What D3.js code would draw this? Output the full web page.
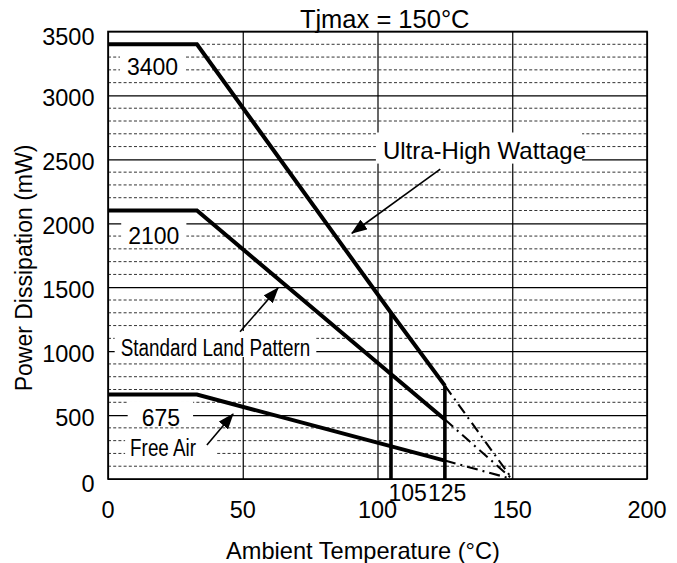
<!DOCTYPE html>
<html>
<head>
<meta charset="utf-8">
<script src="https://cdn.jsdelivr.net/npm/d3@7"></script>
<style>
  body { margin: 0; background: #fff; }
  svg text { font-family: "Liberation Sans", Arial, Helvetica, sans-serif; fill: #000; }
</style>
</head>
<body>
<svg id="chart" width="677" height="563"></svg>
<script>
// values
const xTicks = [0, 50, 100, 150, 200]
const yTicks = [0, 500, 1000, 1500, 2000, 2500, 3000, 3500]

const ultraTemp = [0, 33, 105, 125]
const ultraPower = [3400, 3400, 1300, 730]
const landTemp = [0, 33, 125]
const landPower = [2100, 2100, 465]
const airTemp = [0, 33, 125]
const airPower = [660, 660, 144]
const tjMax = 150
const cutoffTemps = [105, 125]

const svg = d3.select('#chart')
const x = d3.scaleLinear().domain([0, 200]).range([108, 647])
const y = d3.scaleLinear().domain([0, 3500]).range([479, 31.5])
const plotL = x(0), plotR = x(200), plotT = y(3500), plotB = y(0)

// minor dashed grid (every 100 mW)
let minor = y.ticks(35).filter(v => v % 500 !== 0)
svg.append('g')
  .selectAll('line')
  .data(minor)
  .join('line')
    .attr('x1', plotL).attr('x2', plotR)
    .attr('y1', d => y(d)).attr('y2', d => y(d))
    .attr('stroke', '#333')
    .attr('stroke-width', 1)
    .attr('stroke-dasharray', '3,2.2')

// major grid via axes
let gx = d3.axisBottom(x).tickValues(xTicks).tickSize(-(plotB - plotT)).tickFormat('')
svg.append('g').attr('transform', `translate(0,${plotB})`).call(gx)
  .call(g => g.select('.domain').remove())
  .selectAll('line').attr('stroke', '#000').attr('stroke-width', 1.2)

let gy = d3.axisLeft(y).tickValues(yTicks).tickSize(-(plotR - plotL)).tickFormat('')
svg.append('g').attr('transform', `translate(${plotL},0)`).call(gy)
  .call(g => g.select('.domain').remove())
  .selectAll('line').attr('stroke', '#000').attr('stroke-width', 1.2)

svg.append('rect')
  .attr('x', plotL).attr('y', plotT)
  .attr('width', plotR - plotL).attr('height', plotB - plotT)
  .attr('fill', 'none').attr('stroke', '#000').attr('stroke-width', 1.6)

// tick labels
svg.append('g')
  .selectAll('text')
  .data(yTicks)
  .join('text')
    .attr('x', plotL - 13.5)
    .attr('y', d => y(d) + (d === 0 || d === 3500 ? 5 : 2.5))
    .attr('dy', '0.35em')
    .attr('text-anchor', 'end')
    .attr('font-size', 23.5)
    .text(d => d)

svg.append('g')
  .selectAll('text')
  .data(xTicks)
  .join('text')
    .attr('x', d => x(d))
    .attr('y', 518)
    .attr('text-anchor', 'middle')
    .attr('font-size', 23.5)
    .text(d => d)

svg.append('text').attr('x', x(105) - 2.5).attr('y', 501)
  .attr('font-size', 23).text('105')
svg.append('text').attr('x', x(125) - 17).attr('y', 501)
  .attr('font-size', 23).text('125')

// axis titles
svg.append('text')
  .attr('x', 363).attr('y', 559)
  .attr('text-anchor', 'middle')
  .attr('font-size', 23.6)
  .text('Ambient Temperature (°C)')

svg.append('text')
  .attr('transform', 'translate(32,268) rotate(-90)')
  .attr('text-anchor', 'middle')
  .attr('font-size', 23)
  .text('Power Dissipation (mW)')

svg.append('text')
  .attr('x', x(71.2)).attr('y', 28)
  .attr('font-size', 25.5)
  .text('Tjmax = 150°C')

// labels with white boxes knocking out the grid
const labels = [
  { text: '3400', t: 7.05, p: 3160, size: 23, narrow: false, pad: [7, 2, 7, -2] },
  { text: '2100', t: 7.5, p: 1838, size: 23, narrow: false, pad: [7, 2, 7, -2] },
  { text: '675', t: 12.5, p: 414, size: 23, narrow: false, pad: [14, 2, 13, -2] },
  { text: 'Free Air', t: 8.2, p: 180, size: 23, narrow: true, pad: [5, 0, 20, -2] },
  { text: 'Standard Land Pattern', t: 4.7, p: 962, size: 23, narrow: true, pad: [6, 2, 6, -2] },
  { text: 'Ultra-High Wattage', t: 102, p: 2499, size: 24, narrow: false, pad: [7, 3, -4, 1] }
]

const boxLayer = svg.append('g')
const markLayer = svg.append('g')
const textLayer = svg.append('g')

labels.forEach(l => {
  let g = textLayer.append('g')
    .attr('transform', `translate(${x(l.t)},${y(l.p)})` + (l.narrow ? ' scale(0.82,1)' : ''))
  let t = g.append('text').attr('font-size', l.size).text(l.text)
  let b = t.node().getBBox()
  let k = l.narrow ? 0.82 : 1
  boxLayer.append('rect')
    .attr('x', x(l.t) + b.x * k - l.pad[0])
    .attr('y', y(l.p) - l.size - l.pad[1])
    .attr('width', b.width * k + l.pad[0] + l.pad[2])
    .attr('height', l.size * 1.13 + l.pad[1] + l.pad[3])
    .attr('fill', '#fff')
})

// curves
let line = d3.line().x(d => x(d[0])).y(d => y(d[1]))
const series = [
  [ultraTemp, ultraPower],
  [landTemp, landPower],
  [airTemp, airPower]
]

series.forEach(([ts, ps]) => {
  let pts = ts.map((t, i) => [t, ps[i]])
  markLayer.append('path')
    .attr('d', line(pts))
    .attr('fill', 'none')
    .attr('stroke', '#000')
    .attr('stroke-width', 4)
    .attr('stroke-linejoin', 'miter')
  let last = pts[pts.length - 1]
  markLayer.append('path')
    .attr('d', line([last, [tjMax, 0]]))
    .attr('fill', 'none')
    .attr('stroke', '#000')
    .attr('stroke-width', 2.1)
    .attr('stroke-dasharray', '11,5,2,5')
})

markLayer.selectAll('line.cut')
  .data(cutoffTemps)
  .join('line')
    .attr('class', 'cut')
    .attr('x1', d => x(d)).attr('x2', d => x(d))
    .attr('y1', y(0))
    .attr('y2', d => y(ultraPower[ultraTemp.indexOf(d)]))
    .attr('stroke', '#000')
    .attr('stroke-width', 3.6)

// arrows
svg.append('defs').append('marker')
  .attr('id', 'head')
  .attr('markerUnits', 'userSpaceOnUse')
  .attr('viewBox', '0 0 16 12')
  .attr('markerWidth', 16).attr('markerHeight', 12)
  .attr('refX', 15).attr('refY', 6)
  .attr('orient', 'auto')
  .append('path')
    .attr('d', 'M0,0 L16,6 L0,12 Z')
    .attr('fill', '#000')

const arrows = [
  [[123.3, 2424], [90.5, 1922]],
  [[49, 1152], [63.1, 1494]],
  [[36.7, 266], [46.4, 508]]
]

markLayer.selectAll('line.arrow')
  .data(arrows)
  .join('line')
    .attr('class', 'arrow')
    .attr('x1', d => x(d[0][0])).attr('y1', d => y(d[0][1]))
    .attr('x2', d => x(d[1][0])).attr('y2', d => y(d[1][1]))
    .attr('stroke', '#000')
    .attr('stroke-width', 1.6)
    .attr('marker-end', 'url(#head)')
</script>
</body>
</html>
